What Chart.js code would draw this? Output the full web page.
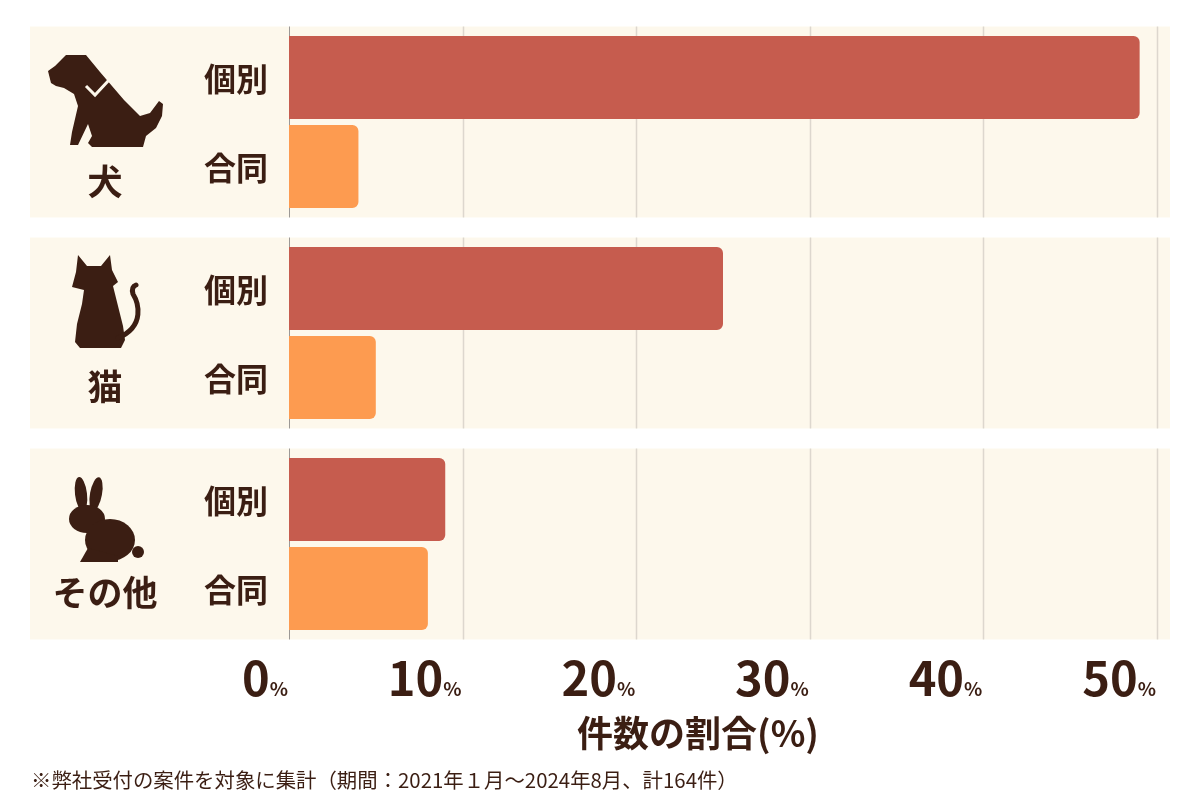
<!DOCTYPE html>
<html lang="ja">
<head>
<meta charset="utf-8">
<script src="https://cdn.jsdelivr.net/npm/chart.js@4.4.1/dist/chart.umd.min.js"></script>
<style>
  body { margin: 0; background: #ffffff; }
  #wrap { position: relative; width: 1200px; height: 800px; }
  #note {
    position: absolute; left: 31px; top: 764px;
    font-family: "Noto Sans CJK JP", sans-serif; font-size: 20.4px;
    color: #3b1e13; white-space: nowrap;
  }
</style>
</head>
<body>
<div id="wrap">
  <canvas id="chart" width="1200" height="800"></canvas>
  <div id="note">※弊社受付の案件を対象に集計（期間：2021年１月～2024年8月、計164件）</div>
</div>
<script>
// Pet funeral case share chart
const groups = ['犬', '猫', 'その他'];
const seriesNames = ['個別', '合同'];
const kobetsu = [49.0, 25.0, 9.0];
const goudou = [4.0, 5.0, 8.0];
const xTicks = [0, 10, 20, 30, 40, 50];
const axisTitle = '件数の割合(%)';

const TEXT = '#3b1e13';
const PANEL = '#fdf8ec';
const FONT = '"Noto Sans CJK JP", "Noto Sans", sans-serif';

// little silhouettes next to the group names
function drawDog(ctx, dy) {
    const pts = [[66,55],[86,55],[100,72],[124,100],[140,116],[150,113],[159,101],[163,104],[162,116],
        [156,128],[146,136],[143,147],[92,147],[88,143],[92,136],[88,124],[78,145],[70,145],[72,132],
        [78,106],[74,94],[64,88],[56,86],[51,83],[48,71],[55,66],[62,59]];
    ctx.beginPath();
    pts.forEach((p, i) => i ? ctx.lineTo(p[0], p[1] + dy) : ctx.moveTo(p[0], p[1] + dy));
    ctx.closePath();
    ctx.fill();
    // collar
    ctx.strokeStyle = PANEL;
    ctx.lineWidth = 3;
    ctx.beginPath();
    ctx.moveTo(86, 86 + dy);
    ctx.lineTo(95, 95 + dy);
    ctx.lineTo(109, 80 + dy);
    ctx.stroke();
}

function drawCat(ctx, dy) {
    const pts = [[78,255],[87,266],[101,266],[110,255],[112,270],[118,282],[113,286],[115,294],
        [119,310],[123,326],[125,340],[121,348],[80,348],[75,342],[77,324],[82,304],[84,290],[72,287],[76,272]];
    ctx.beginPath();
    pts.forEach((p, i) => i ? ctx.lineTo(p[0], p[1] + dy) : ctx.moveTo(p[0], p[1] + dy));
    ctx.closePath();
    ctx.fill();
    ctx.strokeStyle = ctx.fillStyle;
    ctx.lineWidth = 5;
    ctx.lineCap = 'round';
    ctx.beginPath();
    ctx.moveTo(118, 338 + dy);
    ctx.bezierCurveTo(146, 326 + dy, 138, 302 + dy, 133, 294 + dy);
    ctx.quadraticCurveTo(131, 287 + dy, 136, 285 + dy);
    ctx.stroke();
}

function drawRabbit(ctx, dy) {
    ctx.beginPath();
    ctx.ellipse(81, 494 + dy, 6, 17, -0.12, 0, Math.PI * 2);
    ctx.fill();
    ctx.beginPath();
    ctx.ellipse(96, 494 + dy, 6, 17, 0.18, 0, Math.PI * 2);
    ctx.fill();
    ctx.beginPath();
    ctx.ellipse(87, 519 + dy, 18, 14, 0, 0, Math.PI * 2);
    ctx.fill();
    ctx.beginPath();
    ctx.ellipse(110, 540 + dy, 25, 21, 0, 0, Math.PI * 2);
    ctx.fill();
    ctx.beginPath();
    ctx.arc(138, 552 + dy, 6, 0, Math.PI * 2);
    ctx.fill();
    ctx.beginPath();
    ctx.moveTo(80, 562 + dy);
    ctx.lineTo(88, 548 + dy);
    ctx.lineTo(118, 556 + dy);
    ctx.lineTo(118, 562 + dy);
    ctx.closePath();
    ctx.fill();
}

const decor = {
    id: 'decor',
    beforeDatasetsDraw(chart) {
        const ctx = chart.ctx;
        const xs = chart.scales.x, ys = chart.scales.y;
        const pitch = ys.getPixelForValue(1) - ys.getPixelForValue(0);
        const half = pitch * 0.905 / 2;
        ctx.save();
        groups.forEach((g, i) => {
            const yc = ys.getPixelForValue(i);
            ctx.fillStyle = PANEL;
            ctx.fillRect(30, yc - half, 1140, half * 2);
            xTicks.forEach(t => {
                const x = Math.round(xs.getPixelForValue(t)) + 0.5;
                ctx.strokeStyle = t === 0 ? '#9c9895' : '#ddd7ce';
                ctx.lineWidth = t === 0 ? 1 : 1.5;
                ctx.beginPath();
                ctx.moveTo(x, yc - half);
                ctx.lineTo(x, yc + half);
                ctx.stroke();
            });
        });
        ctx.restore();
    },
    afterDatasetsDraw(chart) {
        const ctx = chart.ctx;
        const xs = chart.scales.x, ys = chart.scales.y;
        ctx.save();
        ctx.fillStyle = TEXT;

        // 個別 / 合同 next to each bar
        ctx.font = 'bold 32px ' + FONT;
        ctx.textAlign = 'center';
        ctx.textBaseline = 'middle';
        chart.data.datasets.forEach((ds, di) => {
            chart.getDatasetMeta(di).data.forEach(bar => {
                ctx.fillText(ds.label, 236, bar.y + 1);
            });
        });

        // group names + icons
        const labelOffset = [60, 54, 49];
        ctx.font = 'bold 35px ' + FONT;
        groups.forEach((g, i) => {
            const yc = ys.getPixelForValue(i);
            ctx.fillText(g, 105, yc + labelOffset[i]);
        });
        drawDog(ctx, ys.getPixelForValue(0) - 122);
        drawCat(ctx, ys.getPixelForValue(1) - 333);
        drawRabbit(ctx, ys.getPixelForValue(2) - 544);

        // x tick labels: big number, small %
        ctx.fillStyle = TEXT;
        ctx.textAlign = 'right';
        ctx.textBaseline = 'alphabetic';
        xTicks.forEach(t => {
            const x = xs.getPixelForValue(t) - 1;
            ctx.font = 'bold 19px ' + FONT;
            const pw = ctx.measureText('%').width;
            ctx.fillText('%', x, 696);
            ctx.font = 'bold 47px ' + FONT;
            ctx.fillText(String(t), x - pw, 696);
        });

        // axis title
        ctx.textAlign = 'center';
        ctx.font = 'bold 36px ' + FONT;
        ctx.fillText(axisTitle, 698, 747);
        ctx.restore();
    }
};

const ctx = document.getElementById('chart').getContext('2d');
new Chart(ctx, {
    type: 'bar',
    data: {
        labels: groups,
        datasets: [
            {
                label: seriesNames[0],
                data: kobetsu,
                backgroundColor: '#c65c4e',
                borderRadius: 6,
                borderSkipped: 'start',
                categoryPercentage: 0.8436,
                barPercentage: 0.9326
            },
            {
                label: seriesNames[1],
                data: goudou,
                backgroundColor: '#fd9b50',
                borderRadius: 6,
                borderSkipped: 'start',
                categoryPercentage: 0.8436,
                barPercentage: 0.9326
            }
        ]
    },
    options: {
        indexAxis: 'y',
        responsive: false,
        animation: false,
        layout: {
            padding: { left: 289, right: 43, top: 16.5, bottom: 150.5 }
        },
        plugins: {
            legend: { display: false },
            tooltip: { enabled: false }
        },
        scales: {
            x: { type: 'linear', min: 0, max: 50, display: false },
            y: { display: false, offset: true }
        }
    },
    plugins: [decor]
});
</script>
</body>
</html>
